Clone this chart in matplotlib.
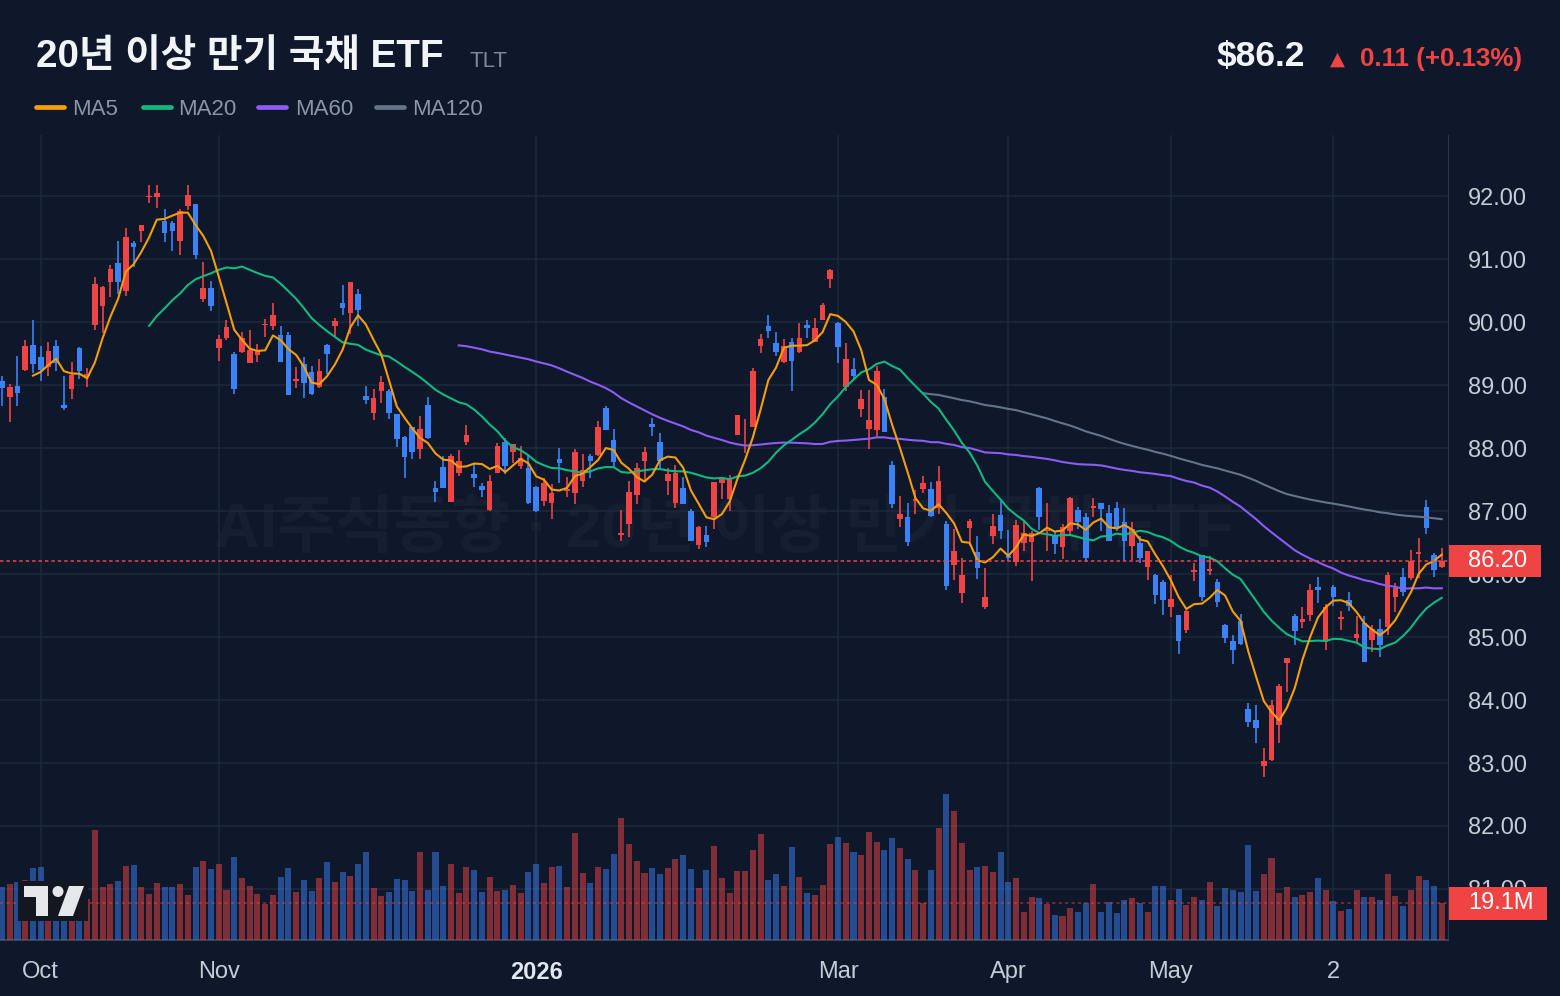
import matplotlib
matplotlib.use("Agg")
import matplotlib.pyplot as plt
import numpy as np
import pandas as pd
from matplotlib.lines import Line2D
from matplotlib.patches import Rectangle, Polygon, Ellipse

# ---- data ----
opens = [
    89.06, 88.81, 88.98, 89.24, 89.64, 89.44, 89.28, 89.62, 88.69, 88.94,
    89.59, 89.14, 89.95, 90.26, 90.63, 90.94, 90.49, 91.25, 91.44, 91.98,
    91.98, 91.61, 91.58, 91.29, 91.84, 91.88, 90.36, 90.54, 89.59, 89.74,
    89.49, 89.52, 89.35, 89.47, 89.95, 89.94, 89.80, 89.79, 89.07, 89.34,
    89.21, 88.97, 89.64, 89.94, 90.31, 90.14, 90.45, 88.82, 88.55, 88.90,
    88.90, 88.54, 88.18, 88.34, 87.98, 88.69, 87.37, 87.70, 87.15, 87.61,
    88.10, 87.59, 87.39, 87.02, 87.61, 88.09, 87.93, 87.72, 87.68, 87.38,
    87.16, 87.13, 87.82, 87.32, 87.28, 87.48, 87.88, 87.89, 88.63, 88.12,
    86.62, 86.79, 87.26, 87.80, 88.38, 88.10, 87.48, 87.13, 87.36, 87.00,
    86.46, 86.62, 86.90, 87.44, 87.19, 88.21, 88.03, 88.33, 89.62, 89.93,
    89.67, 89.37, 89.69, 89.53, 89.95, 89.69, 90.04, 90.68, 89.99, 88.97,
    89.26, 88.62, 88.30, 88.28, 88.81, 87.73, 86.88, 86.91, 87.16, 87.35,
    87.35, 87.05, 86.79, 86.15, 85.70, 86.73, 86.35, 85.48, 86.61, 86.93,
    86.28, 86.19, 86.49, 86.51, 87.37, 86.68, 86.60, 86.43, 86.68, 87.01,
    86.91, 87.05, 87.12, 86.97, 87.05, 86.82, 86.44, 86.49, 86.11, 85.98,
    85.88, 85.48, 85.35, 85.11, 86.04, 86.30, 86.05, 85.88, 85.19, 84.93,
    85.26, 83.86, 83.69, 82.95, 83.04, 83.60, 84.59, 85.33, 85.24, 85.35,
    85.80, 84.92, 85.80, 85.29, 85.59, 84.99, 85.23, 84.96, 85.12, 85.16,
    85.63, 85.96, 85.94, 86.32, 87.07, 86.30, 86.11,
]
highs = [
    89.14, 89.01, 89.46, 89.72, 90.03, 89.62, 89.68, 89.71, 89.14, 89.36,
    89.60, 89.27, 90.71, 90.57, 90.91, 91.29, 91.49, 91.28, 91.54, 92.18,
    92.17, 91.79, 91.60, 91.79, 92.17, 91.88, 90.96, 90.65, 89.80, 90.04,
    89.52, 89.85, 89.87, 89.65, 90.05, 90.31, 89.93, 89.84, 89.29, 89.45,
    89.31, 89.41, 89.65, 90.06, 90.59, 90.63, 90.53, 88.99, 88.94, 89.15,
    88.94, 88.54, 88.19, 88.34, 88.51, 88.81, 87.47, 87.87, 87.91, 87.97,
    88.37, 87.75, 87.45, 87.57, 88.08, 88.16, 88.06, 88.04, 87.90, 87.40,
    87.52, 87.43, 88.00, 87.54, 87.98, 87.91, 87.91, 88.43, 88.66, 88.30,
    87.02, 87.47, 87.76, 88.02, 88.48, 88.24, 87.68, 87.73, 87.54, 87.04,
    86.76, 86.76, 87.46, 87.52, 87.57, 88.53, 88.46, 89.27, 89.81, 90.12,
    89.85, 89.73, 89.75, 89.99, 90.04, 90.07, 90.31, 90.85, 90.00, 89.66,
    89.43, 88.92, 88.92, 89.31, 88.94, 87.80, 87.24, 87.12, 87.33, 87.56,
    87.46, 87.72, 86.84, 86.71, 86.26, 86.88, 86.61, 86.10, 86.95, 87.16,
    86.70, 86.85, 86.85, 86.68, 87.38, 87.13, 86.68, 86.80, 87.23, 87.07,
    86.97, 87.20, 87.13, 87.09, 87.15, 87.05, 86.82, 86.61, 86.37, 86.00,
    85.90, 85.98, 85.35, 85.43, 86.17, 86.30, 86.28, 85.92, 85.20, 85.04,
    85.37, 83.96, 83.92, 83.24, 84.00, 84.25, 84.67, 85.37, 85.47, 85.84,
    85.96, 85.53, 85.82, 85.42, 85.71, 85.34, 85.33, 85.19, 85.29, 86.04,
    85.85, 86.10, 86.38, 86.58, 87.17, 86.33, 86.42,
]
lows = [
    88.66, 88.42, 88.66, 89.23, 89.19, 89.06, 89.15, 89.23, 88.61, 88.78,
    89.10, 88.97, 89.87, 89.83, 90.40, 90.44, 90.41, 90.88, 91.27, 91.89,
    91.81, 91.27, 91.13, 91.07, 91.78, 91.00, 90.32, 90.18, 89.39, 89.71,
    88.86, 89.51, 89.35, 89.36, 89.76, 89.87, 89.36, 88.85, 88.96, 88.79,
    88.84, 88.96, 89.18, 89.76, 90.11, 89.81, 89.93, 88.70, 88.44, 88.72,
    88.46, 88.02, 87.53, 87.82, 87.83, 88.14, 87.15, 87.37, 87.15, 87.55,
    88.05, 87.38, 87.22, 87.00, 87.60, 87.59, 87.77, 87.66, 87.11, 86.99,
    87.08, 86.88, 87.45, 87.22, 87.11, 87.38, 87.52, 87.88, 88.29, 87.69,
    86.52, 86.59, 87.11, 87.47, 88.19, 87.66, 87.26, 87.05, 87.11, 86.52,
    86.40, 86.43, 86.72, 87.19, 87.00, 88.20, 87.92, 88.33, 89.51, 89.75,
    89.46, 89.35, 88.91, 89.51, 89.75, 89.68, 90.03, 90.54, 89.35, 88.91,
    89.09, 88.49, 87.99, 88.17, 88.25, 87.05, 86.75, 86.45, 86.95, 87.29,
    86.91, 86.95, 85.74, 85.91, 85.54, 86.45, 85.92, 85.44, 86.48, 86.55,
    86.20, 86.13, 86.36, 85.89, 86.70, 86.37, 86.32, 86.24, 86.62, 86.72,
    86.19, 86.90, 86.69, 86.52, 86.69, 86.21, 86.22, 86.17, 85.91, 85.53,
    85.35, 85.32, 84.73, 85.07, 85.89, 85.57, 85.98, 85.48, 84.90, 84.57,
    84.88, 83.57, 83.31, 82.77, 83.03, 83.32, 84.13, 84.88, 85.15, 85.25,
    85.54, 84.80, 85.50, 85.11, 85.41, 84.90, 84.60, 84.76, 84.68, 85.04,
    85.40, 85.65, 85.91, 85.93, 86.64, 85.95, 86.10,
]
closes = [
    88.95, 88.97, 88.87, 89.62, 89.34, 89.24, 89.54, 89.35, 88.63, 89.16,
    89.22, 89.18, 90.61, 90.56, 90.85, 90.64, 91.35, 91.19, 91.54, 92.00,
    92.05, 91.41, 91.45, 91.77, 92.01, 91.07, 90.54, 90.26, 89.73, 89.92,
    88.94, 89.74, 89.56, 89.55, 89.97, 90.12, 89.36, 88.85, 89.09, 89.04,
    88.86, 89.23, 89.49, 90.01, 90.22, 90.63, 90.19, 88.76, 88.79, 89.05,
    88.56, 88.15, 87.86, 87.94, 88.30, 88.16, 87.31, 87.37, 87.87, 87.79,
    88.21, 87.53, 87.33, 87.48, 88.03, 87.72, 88.06, 87.85, 87.13, 87.00,
    87.45, 87.28, 87.77, 87.34, 87.93, 87.65, 87.80, 88.33, 88.29, 87.78,
    86.64, 87.31, 87.68, 87.93, 88.33, 87.79, 87.59, 87.61, 87.11, 86.53,
    86.74, 86.51, 87.46, 87.52, 87.52, 88.53, 88.05, 89.23, 89.73, 89.86,
    89.52, 89.62, 89.39, 89.74, 89.90, 89.90, 90.27, 90.82, 89.60, 89.42,
    89.15, 88.78, 88.45, 89.23, 88.26, 87.11, 86.96, 86.51, 87.19, 87.44,
    86.92, 87.48, 85.81, 86.36, 85.99, 86.84, 86.09, 85.64, 86.77, 86.68,
    86.26, 86.78, 86.65, 86.65, 86.90, 86.70, 86.47, 86.74, 87.21, 86.82,
    86.26, 87.07, 87.04, 86.53, 86.72, 86.53, 86.71, 86.26, 86.37, 85.67,
    85.59, 85.61, 84.94, 85.41, 86.06, 85.63, 86.07, 85.56, 84.98, 84.79,
    84.89, 83.65, 83.56, 83.03, 83.92, 84.22, 84.67, 85.10, 85.29, 85.74,
    85.75, 85.48, 85.63, 85.32, 85.50, 85.05, 84.60, 85.12, 84.87, 85.98,
    85.78, 85.71, 86.20, 86.34, 86.73, 86.07, 86.20,
]
volumes = [  # millions
    27.3, 28.9, 29.9, 31.0, 37.3, 37.8, 30.0, 25.0, 22.0, 28.0,
    24.0, 21.0, 56.7, 27.3, 28.9, 30.5, 38.3, 38.9, 27.3, 23.6,
    29.4, 27.3, 27.3, 28.9, 23.1, 37.8, 41.0, 36.8, 39.4, 25.7,
    43.1, 32.0, 27.8, 23.6, 18.4, 23.1, 32.6, 37.3, 24.7, 31.0,
    25.2, 32.0, 40.4, 29.9, 35.2, 33.1, 39.4, 45.2, 26.8, 22.6,
    24.7, 31.5, 31.0, 25.2, 45.2, 25.7, 45.2, 27.8, 39.4, 24.2,
    37.8, 36.2, 24.7, 32.6, 25.2, 25.7, 28.4, 24.2, 35.2, 39.4,
    29.4, 37.8, 38.3, 27.3, 55.1, 34.7, 29.4, 37.8, 36.8, 44.6,
    63.0, 49.4, 41.0, 34.7, 37.3, 34.1, 37.3, 42.0, 44.1, 36.8,
    26.8, 36.2, 48.3, 32.0, 24.2, 35.7, 35.7, 46.7, 54.6, 31.0,
    34.1, 27.8, 47.8, 32.6, 24.2, 23.1, 28.4, 49.4, 53.0, 49.9,
    45.2, 44.1, 55.7, 50.4, 46.7, 52.5, 47.3, 42.0, 36.2, 19.1,
    36.2, 57.8, 75.6, 66.7, 49.9, 36.2, 37.8, 38.3, 35.2, 45.2,
    29.9, 32.0, 14.7, 22.1, 21.5, 18.4, 13.1, 12.6, 16.3, 14.7,
    19.1, 28.9, 14.2, 19.4, 13.7, 20.5, 21.5, 19.1, 14.2, 27.8,
    27.8, 20.5, 26.3, 17.9, 22.1, 20.5, 29.9, 17.3, 26.8, 25.7,
    24.7, 48.8, 25.2, 34.1, 42.5, 24.2, 27.3, 22.1, 23.1, 24.7,
    32.0, 25.7, 20.0, 15.2, 15.8, 25.7, 22.1, 22.1, 20.5, 34.1,
    22.6, 17.3, 25.7, 33.1, 31.0, 27.8, 19.1,
]
tick_pos = [5, 28, 69, 108, 130, 151, 172]
tick_labels = ["Oct", "Nov", "2026", "Mar", "Apr", "May", "2"]
price_ticks = list(range(81, 93))

# ---- style ----
BG = "#0f172a"
GRID = "#1e293b"
UP = "#ef4444"
DOWN = "#3b82f6"
MA_COLORS = {"MA5": "#f59e0b", "MA20": "#10b981", "MA60": "#8b5cf6", "MA120": "#64748b"}
LATIN = "Liberation Sans"
KR = ["Liberation Sans", "Noto Sans CJK KR", "DejaVu Sans"]

W, H = 1560, 996
plt.rcParams["font.family"] = KR

fig = plt.figure(figsize=(W / 100, H / 100), dpi=100, facecolor=BG)
ax = fig.add_axes([0, (H - 940) / H, 1448 / W, (940 - 135) / H])
ax.set_facecolor(BG)

x = np.arange(len(closes))
o = np.array(opens)
h = np.array(highs)
l = np.array(lows)
c = np.array(closes)
up = c >= o
colors = np.where(up, UP, DOWN)

# candles
ax.vlines(x, l, h, colors=colors, linewidth=1.2, zorder=3)
body_lo = np.minimum(o, c)
body_h = np.maximum(np.abs(c - o), 0.025)
ax.bar(x, body_h, bottom=body_lo, width=0.72, color=colors, zorder=4, linewidth=0)

# moving averages
close_s = pd.Series(c)
for name, n in [("MA120", 120), ("MA60", 60), ("MA20", 20), ("MA5", 5)]:
    ax.plot(x, close_s.rolling(n).mean(), color=MA_COLORS[name], lw=1.5, zorder=5)

ax.set_xlim(-0.26, 186.8)
ax.set_ylim(80.19, 92.97)

# volume overlay (twin axes shares x)
vax = ax.twinx()
vax.set_ylim(0, 19.1 * 805 / 37)
vax.bar(x, volumes, width=0.78, color=colors, alpha=0.5, linewidth=0, zorder=2)
vax.set_yticks([])
for s in vax.spines.values():
    s.set_visible(False)

# axes styling (after twinx, which moves the ticks to the left)
ax.grid(True, color=GRID, lw=1.1)
ax.set_axisbelow(True)
ax.set_xticks(tick_pos)
ax.set_xticklabels(tick_labels)
ax.yaxis.tick_right()
ax.yaxis.set_label_position("right")
ax.set_yticks(price_ticks)
ax.set_yticklabels([f"{v:.2f}" for v in price_ticks])
ax.tick_params(axis="y", which="both", left=False, labelleft=False, right=False,
               labelright=True, length=0, pad=14.5, labelsize=17, labelcolor="#c4ccd8")
ax.tick_params(axis="x", length=0, pad=15, labelsize=17, labelcolor="#c4ccd8")
for lab in ax.get_xticklabels() + ax.get_yticklabels():
    lab.set_family(LATIN)
ax.get_xticklabels()[2].set_fontweight("bold")
ax.get_xticklabels()[2].set_color("#e2e8f0")
for s in ["top", "left"]:
    ax.spines[s].set_visible(False)
ax.spines["right"].set_color("#2b3648")
ax.spines["bottom"].set_color("#374151")
ax.spines["bottom"].set_linewidth(1.5)

# watermark
ax.text(0.5, 0.509, "AI주식동향 · 20년 이상 만기 국채 ETF", transform=ax.transAxes,
        ha="center", va="center", fontsize=45.5, fontweight="bold",
        color="#94a3b8", alpha=0.06, zorder=0.5)

# last price line + label
last = c[-1]
ax.axhline(last, color=UP, lw=1.1, ls=(0, (2.3, 1.9)), zorder=6)
ytr = ax.get_yaxis_transform()
ax.add_patch(Rectangle((1 + 1 / 1448, last - 16 / 63), 92 / 1448, 32 / 63,
                       transform=ytr, clip_on=False, fc=UP, ec="none", zorder=7))
ax.text(1 + 20 / 1448, last, f"{last:.2f}", transform=ytr, ha="left", va="center",
        color="white", fontsize=17, family=LATIN, zorder=8, clip_on=False)

# last volume line + label
vol_last = volumes[-1]
vax.axhline(vol_last, color=UP, lw=1.1, ls=(0, (2, 2.2)), alpha=0.55, zorder=3)
vtr = vax.get_yaxis_transform()
vpx = (19.1 * 805 / 37) / 805
vax.add_patch(Rectangle((1 + 1 / 1448, vol_last - 16.5 * vpx), 98 / 1448, 33 * vpx,
                        transform=vtr, clip_on=False, fc=UP, ec="none", zorder=7))
vax.text(1 + 20 / 1448, vol_last, f"{vol_last:.1f}M", transform=vtr, ha="left",
         va="center", color="white", fontsize=17, family=LATIN, zorder=8, clip_on=False)


def fx(px):
    return px / W


def fy(py):
    return 1 - py / H


# header
fig.text(fx(36), fy(67), "20년 이상 만기 국채 ETF", fontsize=27.8, fontweight="bold",
         color="#f1f5f9", va="baseline", ha="left")
fig.text(fx(469), fy(67), "TLT", fontsize=16, color="#7d8899", va="baseline", ha="left",
         family=LATIN)
fig.text(fx(1217), fy(66), "$86.2", fontsize=25.5, fontweight="bold", color="#f1f5f9",
         va="baseline", ha="left", family=LATIN)
fig.text(fx(1330), fy(65), "▲", fontsize=14, color=UP, va="baseline", ha="left",
         family=["DejaVu Sans"])
fig.text(fx(1360), fy(66), "0.11 (+0.13%)", fontsize=18.6, fontweight="bold", color=UP,
         va="baseline", ha="left", family=LATIN)

# legend
leg = [("MA5", 36, 72), ("MA20", 143, 178), ("MA60", 258, 295), ("MA120", 376, 412)]
for name, lx, tx in leg:
    fig.add_artist(Line2D([fx(lx), fx(lx + 28)], [fy(107), fy(107)], color=MA_COLORS[name],
                          lw=3.4, solid_capstyle="round", transform=fig.transFigure))
    fig.text(fx(tx), fy(115), name, fontsize=16, color="#8b96a8", va="baseline", ha="left",
             family=LATIN)

# TradingView-like logo
fig.add_artist(Rectangle((fx(18), fy(921)), fx(88) - fx(18), (921 - 881) / H,
                         transform=fig.transFigure, fc="#131722", ec="none", zorder=10))
fig.add_artist(Polygon([(fx(24), fy(886)), (fx(48), fy(886)), (fx(48), fy(916)),
                        (fx(36), fy(916)), (fx(36), fy(897)), (fx(24), fy(897))],
                       closed=True, transform=fig.transFigure, fc="#e5e7eb", ec="none", zorder=11))
fig.add_artist(Ellipse((fx(58), fy(891.5)), 11 / W, 11 / H, transform=fig.transFigure,
                       fc="#e5e7eb", ec="none", zorder=11))
fig.add_artist(Polygon([(fx(69), fy(886)), (fx(84), fy(886)), (fx(73), fy(916)), (fx(58), fy(916))],
                       closed=True, transform=fig.transFigure, fc="#e5e7eb", ec="none", zorder=11))

fig.savefig("out.png", dpi=100, facecolor=BG)
